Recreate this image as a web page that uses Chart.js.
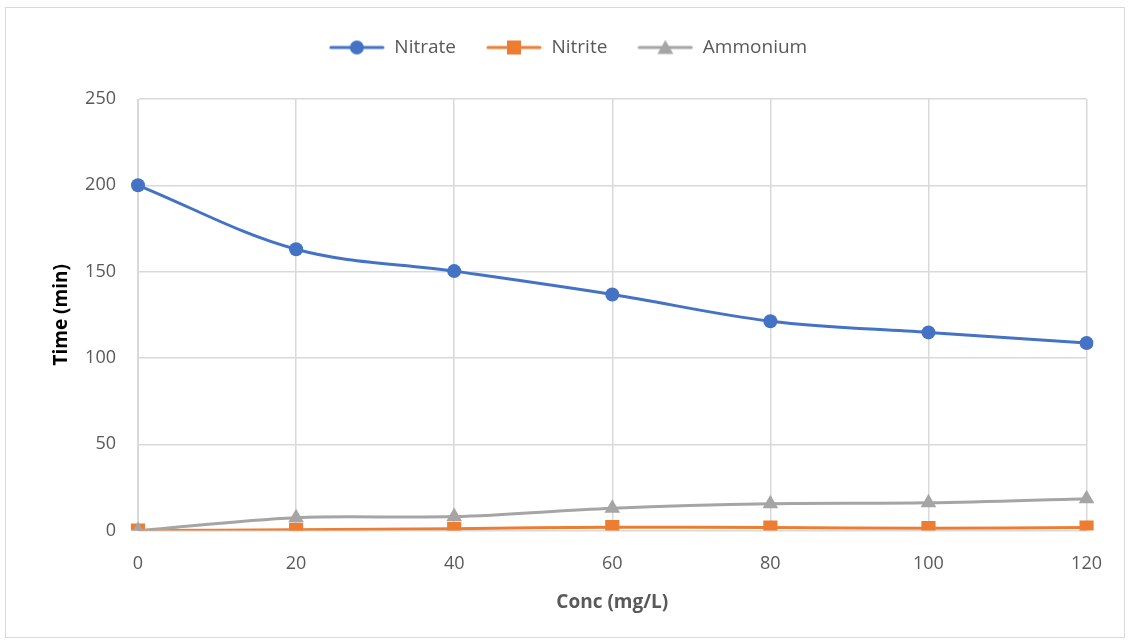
<!DOCTYPE html>
<html>
<head>
<meta charset="utf-8">
<script src="https://cdn.jsdelivr.net/npm/chart.js@4"></script>
<style>
  html, body { margin: 0; padding: 0; background: #fff; }
  #box { position: absolute; left: 5px; top: 7px; width: 1118px; height: 629px; border: 1px solid #d9d9d9; }
  #chart { display: block; }
</style>
</head>
<body>
<div id="box"><canvas id="chart" width="1118" height="629"></canvas></div>
<script>
const concLabels = [0, 20, 40, 60, 80, 100, 120];
const nitrate = [200, 163, 150.3, 136.8, 121.3, 114.8, 108.6];
const nitrite = [0, 0.5, 1.1, 2, 1.8, 1.4, 1.8];
const ammonium = [0, 7.5, 8.1, 13, 15.6, 16.1, 18.5];
const yTicks = [0, 50, 100, 150, 200, 250];

const FONT = "'Open Sans', 'Liberation Sans', sans-serif";

function legendImage(color, style) {
  const c = document.createElement("canvas");
  c.width = 56; c.height = 18;
  const g = c.getContext("2d");
  g.strokeStyle = color;
  g.lineWidth = 3;
  g.lineCap = "round";
  g.beginPath(); g.moveTo(2, 9); g.lineTo(54, 9); g.stroke();
  g.fillStyle = color;
  g.beginPath();
  if (style === "circle") g.arc(28, 9, 7, 0, Math.PI * 2);
  else if (style === "rect") g.rect(21, 2, 14, 14);
  else { g.moveTo(28, 1.5); g.lineTo(36, 15.5); g.lineTo(20, 15.5); g.closePath(); }
  g.fill();
  return c;
}

function series(label, data, color, style, radius, order) {
  return {
    label, data, order,
    borderColor: color, backgroundColor: color,
    borderWidth: 3, tension: 0.35,
    pointStyle: style, pointRadius: radius, pointHoverRadius: radius,
    pointBorderWidth: 0,
    legendImg: legendImage(color, style)
  };
}

// give the legend some extra room below it
const legendSpace = {
  id: "legendSpace",
  beforeInit(chart) {
    const fit = chart.legend.fit;
    chart.legend.fit = function () {
      fit.bind(chart.legend)();
      this.height += 32;
    };
  }
};

const ctx = document.getElementById("chart").getContext("2d");
new Chart(ctx, {
  type: "line",
  data: {
    labels: concLabels,
    datasets: [
      series("Nitrate", nitrate, "#4472C4", "circle", 7, 2),
      series("Nitrite", nitrite, "#ED7D31", "rect", 10, 1),
      series("Ammonium", ammonium, "#A5A5A5", "triangle", 9, 0)
    ]
  },
  plugins: [legendSpace],
  options: {
    responsive: false,
    animation: false,
    layout: { padding: { left: 40, right: 34, top: 0, bottom: 23 } },
    plugins: {
      tooltip: { enabled: false },
      legend: {
        position: "top",
        labels: {
          usePointStyle: true,
          pointStyleWidth: 56,
          padding: 30,
          color: "#595959",
          font: { family: FONT, size: 19 },
          generateLabels(chart) {
            return chart.data.datasets.map((ds, i) => ({
              text: ds.label,
              pointStyle: ds.legendImg,
              fillStyle: ds.borderColor,
              strokeStyle: ds.borderColor,
              lineWidth: 0,
              fontColor: "#595959",
              datasetIndex: i,
              hidden: false
            }));
          }
        }
      }
    },
    scales: {
      x: {
        type: "category",
        offset: false,
        grid: { color: "#d9d9d9", lineWidth: 1.5, drawTicks: false },
        border: { color: "#d9d9d9" },
        ticks: { color: "#595959", font: { family: FONT, size: 18 }, padding: 22, maxRotation: 0 },
        title: { display: true, text: "Conc (mg/L)", color: "#595959", font: { family: FONT, size: 19, weight: "bold" }, padding: { top: -5, bottom: 0 } }
      },
      y: {
        min: 0, max: 250,
        afterBuildTicks(scale) { scale.ticks = yTicks.map(v => ({ value: v })); },
        afterFit(scale) { scale.width = 92; },
        grid: { color: "#d9d9d9", lineWidth: 1.5, drawTicks: false },
        border: { color: "#d9d9d9" },
        ticks: { color: "#595959", font: { family: FONT, size: 18 }, padding: 22 },
        title: { display: true, text: "Time (min)", color: "#000", font: { family: FONT, size: 19, weight: "bold" } }
      }
    }
  }
});
</script>
</body>
</html>
